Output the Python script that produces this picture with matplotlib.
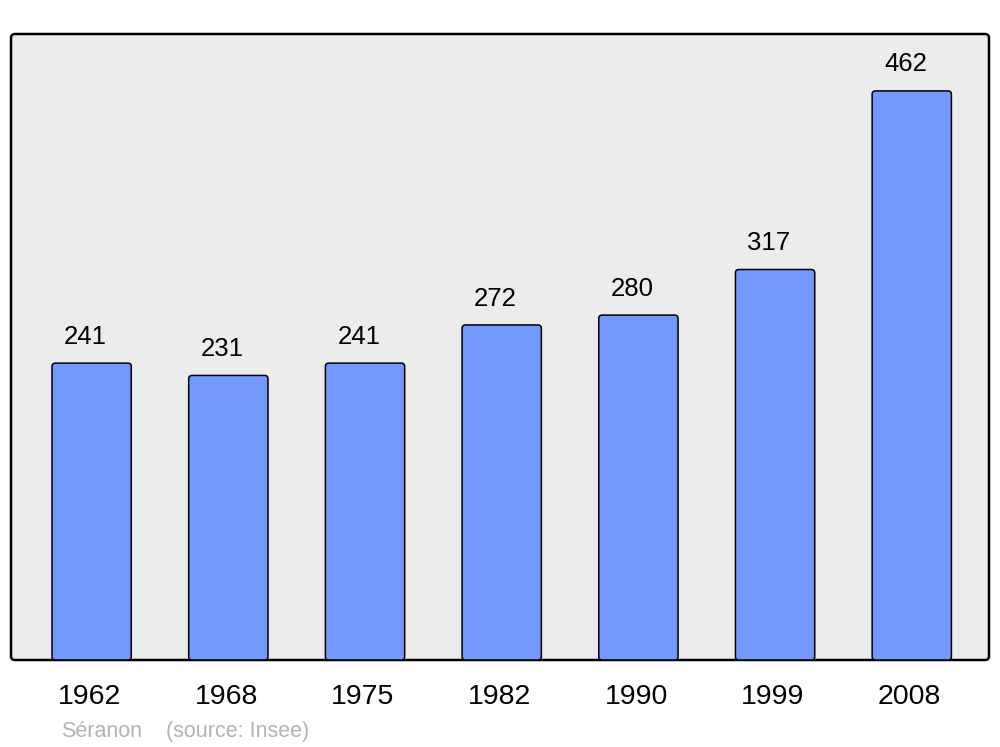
import matplotlib.pyplot as plt
from matplotlib.patches import FancyBboxPatch
from matplotlib.transforms import IdentityTransform

# Population de Séranon
annees = ["1962", "1968", "1975", "1982", "1990", "1999", "2008"]
population = [241, 231, 241, 272, 280, 317, 462]

plt.rcParams['font.family'] = ['Liberation Sans', 'DejaVu Sans']

fig = plt.figure(figsize=(10, 7.47), dpi=100)
ax = fig.add_axes([0.011, 87 / 747, 0.978, 626 / 747])
ax.set_xlim(-0.59, 6.565)
ax.set_ylim(0, max(population) * 1.1)
ax.axis('off')

# fond arrondi (derrière les axes)
fond = FancyBboxPatch((11, 87), 978, 626, boxstyle="round,pad=0,rounding_size=4",
                      transform=IdentityTransform(), facecolor='#ececec',
                      edgecolor='black', linewidth=1.8, zorder=-1)
fig.patches.append(fond)

largura = 0.58
aspecto = (626 / ax.get_ylim()[1]) / (978 / 7.155)
for i, v in enumerate(population):
    barra = FancyBboxPatch((i - largura / 2, 0), largura, v,
                           boxstyle="round,pad=0,rounding_size=0.025",
                           mutation_aspect=1 / aspecto,
                           facecolor='#7399ff', edgecolor='black', linewidth=1.1, zorder=2)
    ax.add_patch(barra)
    ax.annotate(str(v), (i, v), xytext=(-4.5, 14), textcoords='offset points',
                ha='center', va='baseline', fontsize=18.5)
    ax.annotate(annees[i], (i, 0), xytext=(-1.5, -32), textcoords='offset points',
                ha='center', va='baseline', fontsize=20.5)

fig.text(61 / 1000, 1 - 737 / 747, "Séranon", color='#b3b3b3', fontsize=15.5, va='baseline')
fig.text(166 / 1000, 1 - 737 / 747, "(source: Insee)", color='#b3b3b3', fontsize=15.5, va='baseline')

fig.savefig("out.png", dpi=100)
